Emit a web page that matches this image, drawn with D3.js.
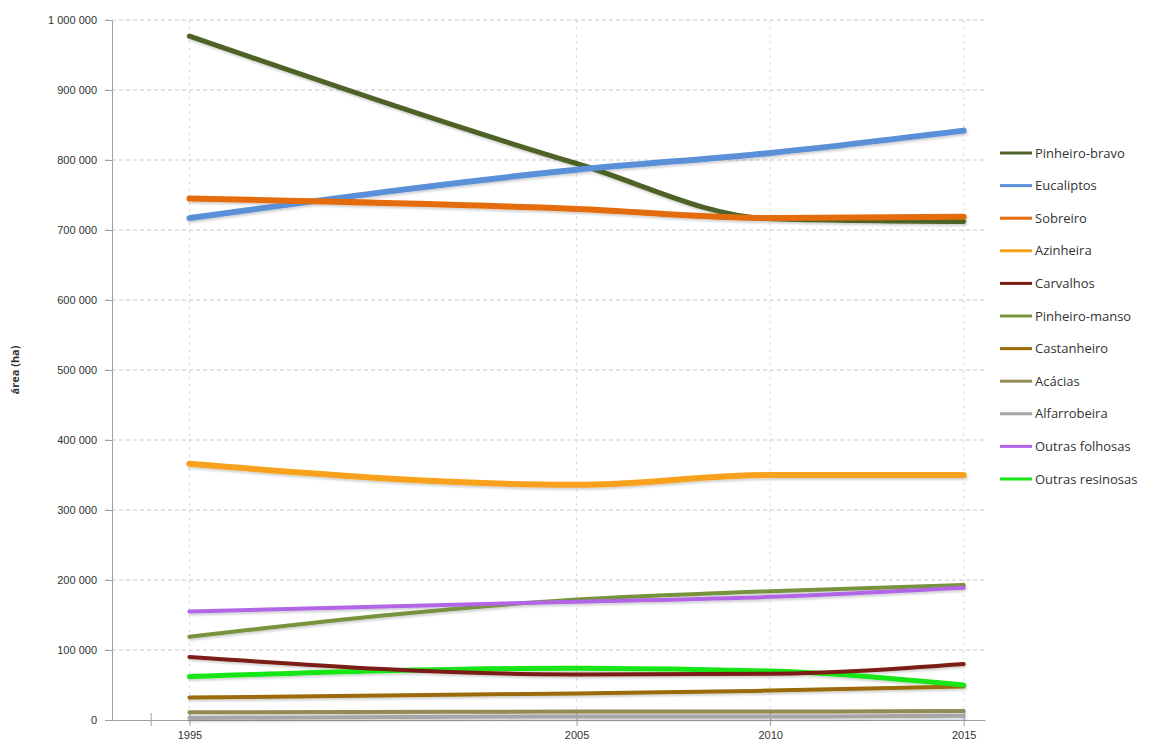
<!DOCTYPE html>
<html>
<head>
<meta charset="utf-8">
<script src="https://cdn.jsdelivr.net/npm/d3@7"></script>
<style>
  html, body { margin: 0; padding: 0; background: #fff; }
  svg { display: block; font-family: "Open Sans", "Liberation Sans", sans-serif; }
</style>
</head>
<body>
<svg id="chart" width="1160" height="747"></svg>
<script>
// Forest area by species, mainland Portugal (ha)
const years = [1995, 2005, 2010, 2015];
const yTicks = [0, 100000, 200000, 300000, 400000, 500000, 600000, 700000, 800000, 900000, 1000000];
const xTickYears = [1994, 1995, 2005, 2010, 2015];
const xLabelYears = [1995, 2005, 2010, 2015];

const seriesNames = [
  "Pinheiro-bravo", "Eucaliptos", "Sobreiro", "Azinheira", "Carvalhos",
  "Pinheiro-manso", "Castanheiro", "Acácias", "Alfarrobeira",
  "Outras folhosas", "Outras resinosas"
];

const pinheiroBravo   = [977000, 795000, 716000, 712000];
const eucaliptos      = [717000, 786000, 810000, 842000];
const sobreiro        = [745000, 730000, 717000, 719000];
const azinheira       = [366000, 336000, 350000, 350000];
const carvalhos       = [90000, 65000, 66000, 80000];
const pinheiroManso   = [119000, 172000, 184000, 193000];
const castanheiro     = [32000, 38000, 42000, 48000];
const acacias         = [11000, 12000, 12000, 13000];
const alfarrobeira    = [3000, 5000, 5000, 6000];
const outrasFolhosas  = [155000, 169000, 176000, 189000];
const outrasResinosas = [62000, 74000, 70000, 50000];

const seriesValues = [
  pinheiroBravo, eucaliptos, sobreiro, azinheira, carvalhos,
  pinheiroManso, castanheiro, acacias, alfarrobeira,
  outrasFolhosas, outrasResinosas
];

const colors = [
  "#4f6228", "#5a90d8", "#e46c0a", "#f7a11a", "#7b1c12",
  "#77933c", "#9a6a08", "#948a54", "#a6a6a6",
  "#b266e6", "#19e619"
];
const widths = [5, 6, 6, 6, 4, 4, 4, 4, 4, 4, 5];

const svg = d3.select("#chart");
const margin = { left: 112, right: 175, top: 20, bottom: 27 };
const W = 1160, H = 747;

const x = d3.scaleLinear().domain([1993, 2015.55]).range([margin.left, 985]);
const y = d3.scaleLinear().domain([0, 1000000]).range([720, 20]);

const fmt = v => d3.format(",")(v).replace(/,/g, " ");

// drop shadow under the lines
const defs = svg.append("defs");
const f = defs.append("filter").attr("id", "shadow")
  .attr("x", "-5%").attr("y", "-20%").attr("width", "110%").attr("height", "140%");
f.append("feDropShadow").attr("dx", 1).attr("dy", 2).attr("stdDeviation", 1.2)
  .attr("flood-color", "#000").attr("flood-opacity", 0.18);

// horizontal grid
svg.append("g")
  .selectAll("line").data(yTicks.slice(1)).join("line")
  .attr("x1", 105).attr("x2", 985)
  .attr("y1", d => y(d)).attr("y2", d => y(d))
  .attr("stroke", "#c8c8c8").attr("stroke-width", 1)
  .attr("stroke-dasharray", "4,3");

// vertical grid
svg.append("g")
  .selectAll("line").data(xLabelYears).join("line")
  .attr("x1", d => x(d)).attr("x2", d => x(d))
  .attr("y1", 20).attr("y2", 720)
  .attr("stroke", "#dcdcdc").attr("stroke-width", 1)
  .attr("stroke-dasharray", "3,4");

// y axis
const yAxis = d3.axisLeft(y).tickValues(yTicks).tickFormat(fmt).tickSize(7).tickSizeOuter(0);
const gy = svg.append("g").attr("transform", `translate(${margin.left},0)`).call(yAxis);
gy.select(".domain").attr("stroke", "#a0a0a0");
gy.selectAll(".tick line").attr("stroke", "#a0a0a0");
gy.selectAll(".tick text").attr("fill", "#333").attr("font-size", 11).attr("x", -15);

// x axis
const xAxis = d3.axisBottom(x).tickValues(xTickYears)
  .tickFormat(d => xLabelYears.includes(d) ? d : "").tickSize(6).tickSizeOuter(0);
const gx = svg.append("g").attr("transform", "translate(0,720)").call(xAxis);
gx.select(".domain").attr("stroke", "#a0a0a0");
gx.selectAll(".tick line").attr("stroke", "#a0a0a0").attr("y1", -7).attr("y2", 6);
gx.selectAll(".tick text").attr("fill", "#333").attr("font-size", 11).attr("dy", "0.9em");

// y axis title
svg.append("text")
  .attr("transform", "translate(19,370) rotate(-90)")
  .attr("text-anchor", "middle")
  .attr("font-size", 11).attr("font-weight", "bold").attr("fill", "#333")
  .text("área (ha)");

// series lines (draw bottom series first, top ones last)
const line = d3.line().x((d, i) => x(years[i])).y(d => y(d)).curve(d3.curveMonotoneX);
const order = [8, 7, 6, 10, 4, 5, 9, 3, 0, 1, 2];
const gl = svg.append("g").attr("filter", "url(#shadow)");
order.forEach(i => {
  gl.append("path")
    .attr("d", line(seriesValues[i]))
    .attr("fill", "none")
    .attr("stroke", colors[i])
    .attr("stroke-width", widths[i])
    .attr("stroke-linecap", "round")
    .attr("stroke-linejoin", "round");
});

// legend
const lg = svg.append("g").attr("transform", "translate(1000,153)");
seriesNames.forEach((name, i) => {
  const row = lg.append("g").attr("transform", `translate(0,${i * 32.6})`);
  row.append("line").attr("x1", 0).attr("x2", 32).attr("y1", 0).attr("y2", 0)
    .attr("stroke", colors[i]).attr("stroke-width", 3);
  row.append("text").attr("x", 35).attr("y", 0).attr("dy", "0.35em")
    .attr("font-size", 13).attr("fill", "#333").text(name);
});
</script>
</body>
</html>
